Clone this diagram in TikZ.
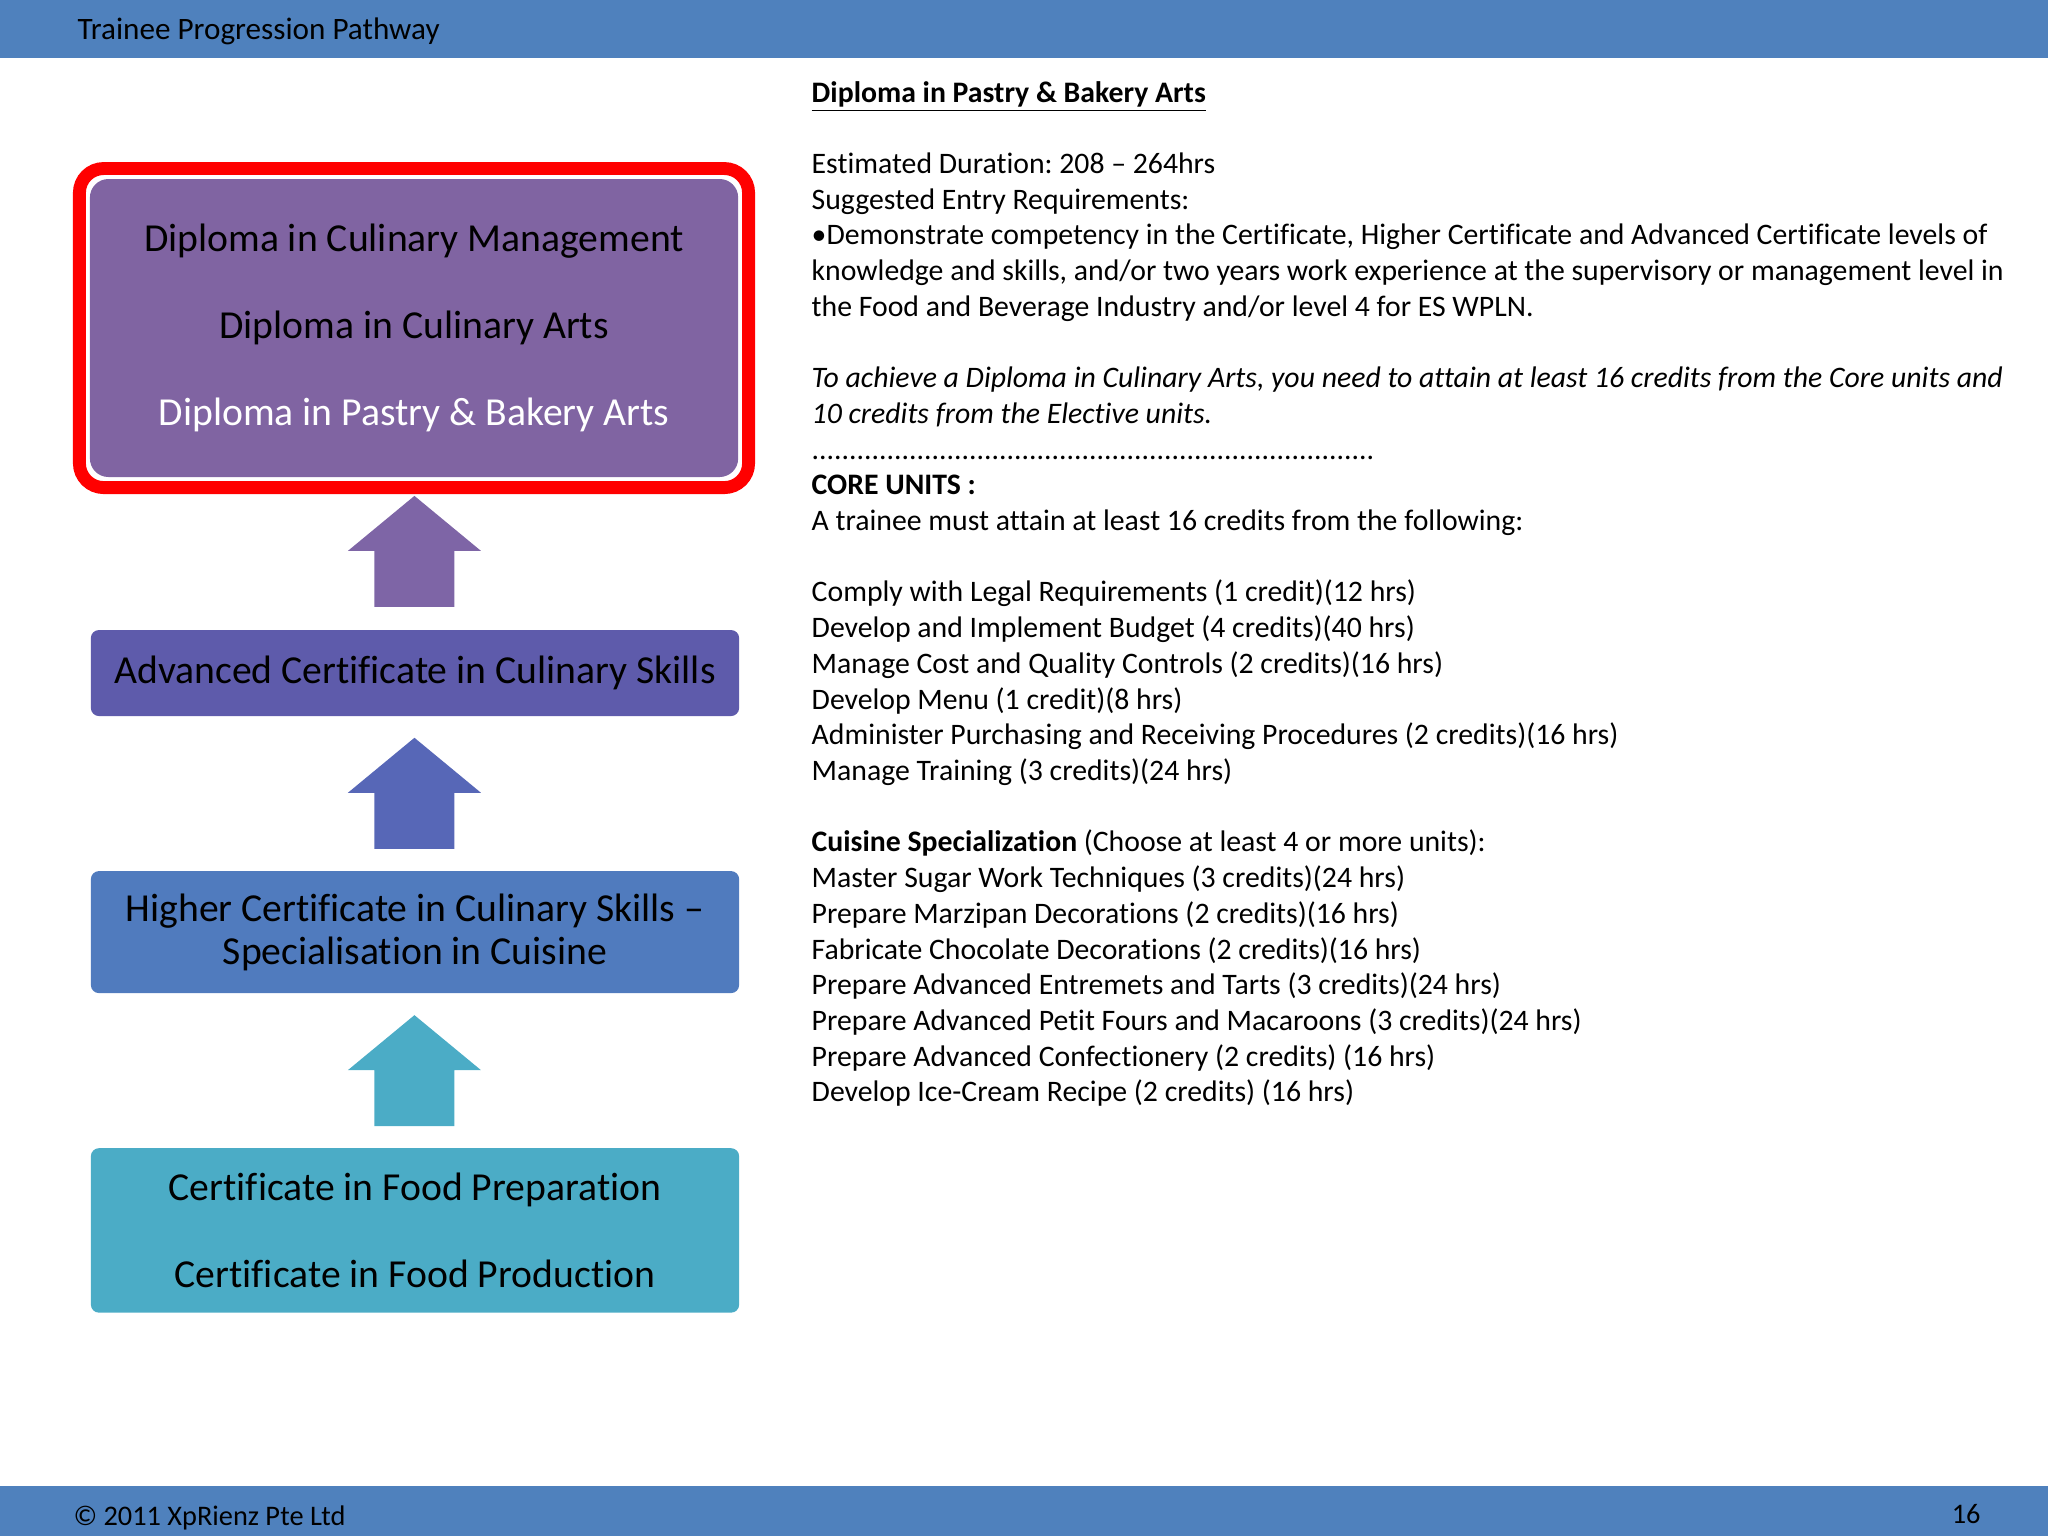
\documentclass[tikz,border=0pt]{standalone}
\usepackage{fontspec}
\setmainfont{Carlito}[Ligatures=NoCommon]
\frenchspacing
\usepackage{tikz}
\usetikzlibrary{positioning}
\definecolor{barblue}{HTML}{4F81BD}
\definecolor{dippurple}{HTML}{8064A2}
\definecolor{advpurple}{HTML}{5E5BAB}
\definecolor{higblue}{HTML}{507BBE}
\definecolor{certteal}{HTML}{4BACC6}
\definecolor{arrpurple}{HTML}{7E65A6}
\definecolor{arrslate}{HTML}{5767B7}

\begin{document}
\begin{tikzpicture}[x=1mm,y=-1mm,
lvl/.style={fill=#1,rounded corners=1mm,inner sep=0pt,align=center,minimum width=80.4mm,font=\fontsize{14}{15.2}\selectfont},
bar/.style={fill=barblue},
uparr/.style={fill=#1}]
\useasboundingbox (0,0) rectangle (254,190.5);
% header and footer
\fill[bar] (0,0) rectangle (254,7.2);
\node[anchor=west,inner sep=0pt,font=\fontsize{11}{13}\selectfont] (title) at (9.55,3.9) {Trainee Progression Pathway};
\fill[bar] (0,184.3) rectangle (254,190.5);
\node[anchor=west,inner sep=0pt,font=\fontsize{10}{12}\selectfont] (copy) at (9.05,188.2) {\textcopyright{} 2011 XpRienz Pte Ltd};
\node[anchor=east,inner sep=0pt,font=\fontsize{10}{12}\selectfont] (page) at (245.7,187.8) {16};
% pathway boxes
\draw[red,line width=1.6mm,rounded corners=3mm] (9.85,20.9) rectangle (92.84,60.47);
\node[lvl=dippurple,rounded corners=2.3mm,minimum height=36.96mm,font=\fontsize{14}{30.8}\selectfont] (dip) at (51.35,40.68)
  {Diploma in Culinary Management\\Diploma in Culinary Arts\\\textcolor{white}{Diploma in Pastry \& Bakery Arts}};
\node[lvl=advpurple,minimum height=10.67mm] (adv) at (51.47,83.47) {Advanced Certificate in Culinary Skills};
\node[lvl=higblue,minimum height=15.13mm] (hig) at (51.47,115.6) {Higher Certificate in Culinary Skills --\\Specialisation in Cuisine};
\node[lvl=certteal,minimum height=20.4mm,font=\fontsize{14}{30.6}\selectfont] (cert) at (51.47,152.6) {Certificate in Food Preparation\\Certificate in Food Production};
% block arrows
\foreach \tip/\col in {61.5/arrpurple,91.5/arrslate,125.9/certteal}
  \fill[uparr=\col] (51.4,\tip) -- ++(8.25,6.82) -- ++(-3.29,0) -- ++(0,6.95) -- ++(-9.92,0) -- ++(0,-6.95) -- ++(-3.29,0) -- cycle;
% unit details
\node[anchor=north west,inner sep=0pt,align=left,font=\fontsize{10.5}{12.6}\selectfont] (units) at (100.6,10.0) {%
\underline{\textbf{Diploma in Pastry \& Bakery Arts}}\\
\mbox{}\\
Estimated Duration: 208 -- 264hrs\\
Suggested Entry Requirements:\\
\textbullet Demonstrate competency in the Certificate, Higher Certificate and Advanced Certificate levels of\\
knowledge and skills, and/or two years work experience at the supervisory or management level in\\
the Food and Beverage Industry and/or level 4 for ES WPLN.\\
\mbox{}\\
\textit{To achieve a Diploma in Culinary Arts, you need to attain at least 16 credits from the Core units and}\\
\textit{10 credits from the Elective units.}\\
...........................................................................\\
\textbf{CORE UNITS :}\\
A trainee must attain at least 16 credits from the following:\\
\mbox{}\\
Comply with Legal Requirements (1 credit)(12 hrs)\\
Develop and Implement Budget (4 credits)(40 hrs)\\
Manage Cost and Quality Controls (2 credits)(16 hrs)\\
Develop Menu (1 credit)(8 hrs)\\
Administer Purchasing and Receiving Procedures (2 credits)(16 hrs)\\
Manage Training (3 credits)(24 hrs)\\
\mbox{}\\
\textbf{Cuisine Specialization} (Choose at least 4 or more units):\\
Master Sugar Work Techniques (3 credits)(24 hrs)\\
Prepare Marzipan Decorations (2 credits)(16 hrs)\\
Fabricate Chocolate Decorations (2 credits)(16 hrs)\\
Prepare Advanced Entremets and Tarts (3 credits)(24 hrs)\\
Prepare Advanced Petit Fours and Macaroons (3 credits)(24 hrs)\\
Prepare Advanced Confectionery (2 credits) (16 hrs)\\
Develop Ice-Cream Recipe (2 credits) (16 hrs)};
\end{tikzpicture}
\end{document}
